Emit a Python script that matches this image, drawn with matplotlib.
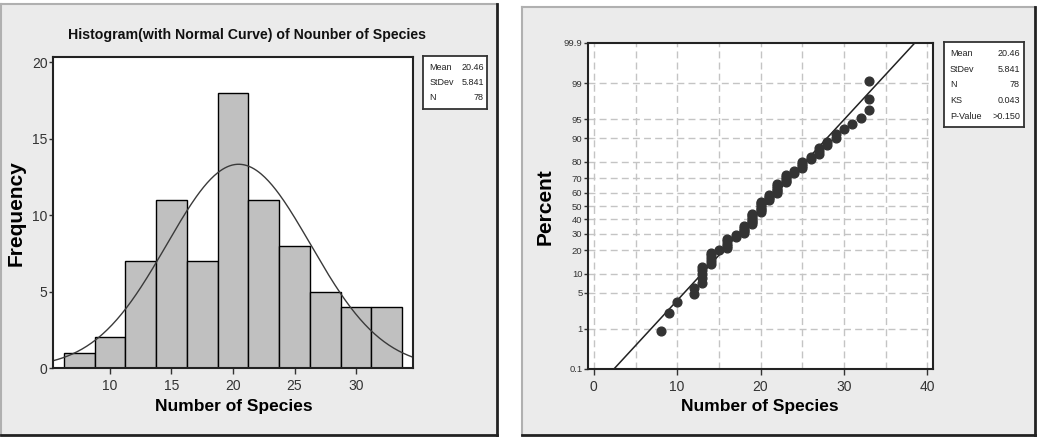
import numpy as np
import matplotlib
matplotlib.use('Agg')
import matplotlib.pyplot as plt
from matplotlib.patches import Rectangle
from matplotlib.lines import Line2D
from statistics import NormalDist

# histogram (bin midpoints and counts)
bin_mids = [7.5, 10, 12.5, 15, 17.5, 20, 22.5, 25, 27.5, 30, 32.5]
counts = [1, 2, 7, 11, 7, 18, 11, 8, 5, 4, 4]
bin_width = 2.5

# summary statistics shown in the boxes
mean_val = 20.46
sd_val = 5.841
n_obs = 78
ks_text = '0.043'
pval_text = '>0.150'

# observed values (number of species) and how many times each occurs
species_vals = [8, 9, 10, 12, 13, 14, 15, 16, 17, 18, 19, 20, 21, 22, 23, 24, 25, 26, 27, 28, 29, 30, 31, 32, 33]
species_freq = [1, 1, 1, 2, 5, 5, 1, 5, 2, 5, 7, 7, 4, 6, 5, 2, 4, 2, 3, 2, 2, 1, 1, 1, 3]

pct_ticks = [0.1, 1, 5, 10, 20, 30, 40, 50, 60, 70, 80, 90, 95, 99, 99.9]
pct_labels = ['0.1', '1', '5', '10', '20', '30', '40', '50', '60', '70', '80', '90', '95', '99', '99.9']

plt.rcParams['font.family'] = ['Liberation Sans', 'DejaVu Sans']

W, H = 1039, 437
fig = plt.figure(figsize=(W / 100, H / 100), dpi=100)
fig.patch.set_facecolor('white')

def px(x0, y0, x1, y1):
    return [x0 / W, 1 - y1 / H, (x1 - x0) / W, (y1 - y0) / H]

def fpt(x, y):
    return (x / W, 1 - y / H)

def panel(x0, y0, x1, y1):
    fig.patches.append(Rectangle((x0 / W, 1 - y1 / H), (x1 - x0) / W, (y1 - y0) / H,
                                 transform=fig.transFigure, facecolor='#ebebeb',
                                 edgecolor='none', zorder=-5))
    # light top/left, dark bottom/right edges
    fig.add_artist(Line2D([x0 / W, x1 / W], [1 - y0 / H] * 2, color='#b0b0b0', lw=1.5))
    fig.add_artist(Line2D([x0 / W] * 2, [1 - y0 / H, 1 - y1 / H], color='#b0b0b0', lw=1.5))
    fig.add_artist(Line2D([x0 / W, x1 / W], [1 - y1 / H] * 2, color='#222222', lw=2))
    fig.add_artist(Line2D([x1 / W] * 2, [1 - y0 / H, 1 - y1 / H], color='#222222', lw=2))

panel(1, 4, 497, 435)
panel(522, 7, 1035, 435)

def stat_box(x0, y0, x1, y1, first, step, lab_x, val_x, rows):
    ax = fig.add_axes(px(x0, y0, x1, y1))
    ax.set_xlim(x0, x1)
    ax.set_ylim(y1, y0)
    ax.set_xticks([])
    ax.set_yticks([])
    for s in ax.spines.values():
        s.set_linewidth(1.3)
        s.set_color('#333333')
    for i, (lab, val) in enumerate(rows):
        ax.text(lab_x, first + i * step, lab, fontsize=6.5, va='center', ha='left', color='#222222')
        ax.text(val_x, first + i * step, val, fontsize=6.5, va='center', ha='right', color='#222222')

def style_axes(ax):
    for s in ax.spines.values():
        s.set_linewidth(1.5)
        s.set_color('#222222')

# ---------- left: histogram with normal curve ----------
ax1 = fig.add_axes(px(53, 57, 413, 368))
ax1.bar(bin_mids, counts, width=bin_width, color='#c0c0c0', edgecolor='black', linewidth=1.0)
xs = np.linspace(5.37, 34.63, 300)
nd = NormalDist(mean_val, sd_val)
ax1.plot(xs, [nd.pdf(v) * n_obs * bin_width for v in xs], color='#3a3a3a', lw=1.0)
ax1.set_xlim(5.37, 34.63)
ax1.set_ylim(0, 20.33)
ax1.set_xticks([10, 15, 20, 25, 30])
ax1.set_yticks([0, 5, 10, 15, 20])
ax1.tick_params(axis='x', labelsize=10, length=4, width=1, pad=4, colors='#333333')
ax1.tick_params(axis='y', labelsize=10, length=3, width=1, pad=1, colors='#333333')
style_axes(ax1)
fig.text(*fpt(247, 35), 'Histogram(with Normal Curve) of Nounber of Species', fontsize=10.2,
         fontweight='bold', ha='center', va='center', color='#111111')
ax1.set_xlabel('Number of Species', fontsize=12.5, fontweight='bold', va='center')
ax1.xaxis.set_label_coords(*fpt(234, 407), transform=fig.transFigure)
ax1.set_ylabel('Frequency', fontsize=15, fontweight='bold', va='center')
ax1.yaxis.set_label_coords(*fpt(16, 213), transform=fig.transFigure)
stat_box(423, 56, 487, 109, 67.7, 14.8, 429.5, 484,
         [('Mean', '%.2f' % mean_val), ('StDev', '%.3f' % sd_val), ('N', str(n_obs))])

# ---------- right: normal probability plot ----------
std = NormalDist()
_ppf = np.vectorize(std.inv_cdf, otypes=[float])
_cdf = np.vectorize(std.cdf, otypes=[float])

def to_z(p):
    p = np.clip(np.asarray(p, dtype=float) / 100.0, 1e-9, 1 - 1e-9)
    return _ppf(p)

def from_z(z):
    return _cdf(np.asarray(z, dtype=float)) * 100.0

data = np.repeat(species_vals, species_freq)
ranks = np.arange(1, len(data) + 1)
pct = (ranks - 0.3) / (len(data) + 0.4) * 100  # median ranks

ax2 = fig.add_axes(px(588, 43, 933, 369))
ax2.set_yscale('function', functions=(to_z, from_z))
ax2.set_ylim(0.1, 99.9)
ax2.set_xlim(-0.7, 40.7)
for g in range(0, 45, 5):
    ax2.axvline(g, color='#c4c4c4', lw=1, ls=(0, (5, 3)), zorder=0)
for g in pct_ticks[1:-1]:
    ax2.axhline(g, color='#c4c4c4', lw=1, ls=(0, (5, 3)), zorder=0)
fit_x = np.array([mean_val + std.inv_cdf(0.001) * sd_val, mean_val + std.inv_cdf(0.999) * sd_val])
ax2.plot(fit_x, [0.1, 99.9], color='#222222', lw=1.1, zorder=2)
ax2.plot(data, pct, 'o', color='#333333', ms=6.3, mec='#333333', zorder=3)
ax2.set_yticks(pct_ticks)
ax2.set_yticklabels(pct_labels)
ax2.minorticks_off()
ax2.set_xticks([0, 10, 20, 30, 40])
ax2.tick_params(axis='y', labelsize=6.8, length=3, width=1, pad=1, colors='#333333')
ax2.tick_params(axis='x', labelsize=10, length=4, width=1, pad=4, colors='#333333')
style_axes(ax2)
ax2.set_xlabel('Number of Species', fontsize=12.5, fontweight='bold', va='center')
ax2.xaxis.set_label_coords(*fpt(760, 407), transform=fig.transFigure)
ax2.set_ylabel('Percent', fontsize=15, fontweight='bold', va='center')
ax2.yaxis.set_label_coords(*fpt(545, 207), transform=fig.transFigure)
stat_box(944, 42, 1024, 127, 53.3, 15.75, 950, 1020,
         [('Mean', '%.2f' % mean_val), ('StDev', '%.3f' % sd_val), ('N', str(n_obs)),
          ('KS', ks_text), ('P-Value', pval_text)])

fig.savefig('out.png', dpi=100)
